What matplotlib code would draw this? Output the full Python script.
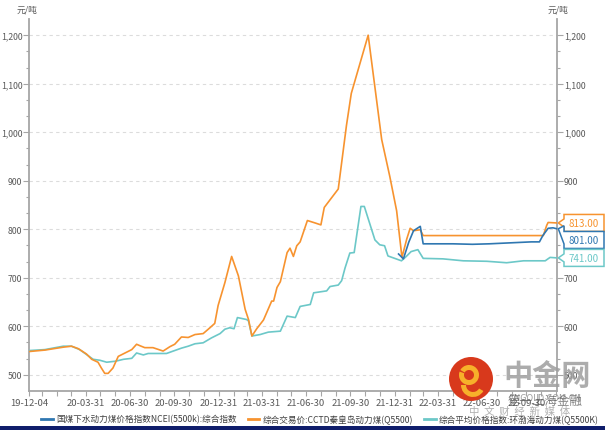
import numpy as np
import pandas as pd
import matplotlib
matplotlib.use("Agg")
import matplotlib.pyplot as plt
import matplotlib.dates as mdates
from matplotlib.patches import Polygon, Circle, Rectangle, Wedge
from matplotlib.transforms import IdentityTransform
from matplotlib.ticker import FixedLocator, MultipleLocator, FuncFormatter

plt.rcParams['font.family'] = ['Noto Sans CJK SC', 'DejaVu Sans']

# series names (legend order)
names = ["国煤下水动力煤价格指数NCEI(5500k):综合指数",
         "综合交易价:CCTD秦皇岛动力煤(Q5500)",
         "综合平均价格指数:环渤海动力煤(Q5500K)"]
colors = ["#2f77b1", "#f7932f", "#6cc8c8"]

# NCEI (blue) - only from early 2022
ncei_dates = ["2022-01-08", "2022-01-18", "2022-01-29", "2022-02-08", "2022-02-22",
              "2022-02-28", "2022-05-01", "2022-06-10", "2022-07-15", "2022-10-10",
              "2022-10-27", "2022-11-03", "2022-11-14", "2022-11-24", "2022-12-02"]
ncei_vals = [749, 739, 773, 797, 806,
             770, 770, 769, 770, 774,
             774, 787, 802, 803, 801]

# CCTD (orange)
cctd_dates = ["2019-12-04", "2020-01-06", "2020-02-13", "2020-03-01", "2020-03-15",
              "2020-04-01", "2020-04-12", "2020-04-25", "2020-05-02", "2020-05-09",
              "2020-05-16", "2020-05-26", "2020-06-06", "2020-06-20", "2020-07-04",
              "2020-07-14", "2020-07-21", "2020-07-31", "2020-08-17", "2020-09-07",
              "2020-09-21", "2020-10-01", "2020-10-15", "2020-10-29", "2020-11-12",
              "2020-11-29", "2020-12-13", "2020-12-23", "2020-12-30", "2021-01-13",
              "2021-01-27", "2021-02-10", "2021-02-24", "2021-03-03", "2021-03-10",
              "2021-03-20", "2021-04-03", "2021-04-10", "2021-04-20", "2021-04-24",
              "2021-05-01", "2021-05-08", "2021-05-22", "2021-05-28", "2021-06-04",
              "2021-06-11", "2021-06-18", "2021-07-03", "2021-07-19", "2021-07-31",
              "2021-08-07", "2021-09-05", "2021-09-22", "2021-10-02", "2021-11-06",
              "2021-12-04", "2021-12-21", "2022-01-04", "2022-01-15", "2022-01-25",
              "2022-02-01", "2022-02-08", "2022-02-22", "2022-02-28", "2022-11-04",
              "2022-11-11", "2022-11-14", "2022-12-02"]
cctd_vals = [548, 551, 557, 559, 554,
             543, 532, 526, 514, 503,
             503, 514, 538, 545, 552,
             563, 560, 556, 556, 549,
             558, 563, 578, 577, 583,
             585, 597, 606, 643, 690,
             744, 704, 635, 614, 580,
             595, 613, 629, 652, 652,
             680, 692, 752, 761, 744,
             766, 774, 818, 813, 809,
             845, 883, 1014, 1080, 1200,
             985, 908, 838, 742, 780,
             802, 797, 799, 787, 787,
             808, 814, 813]

# 环渤海 (teal)
bohai_dates = ["2019-12-04", "2020-01-06", "2020-02-13", "2020-03-01", "2020-03-18",
               "2020-04-01", "2020-04-15", "2020-04-29", "2020-05-13", "2020-05-31",
               "2020-06-17", "2020-07-04", "2020-07-14", "2020-07-28", "2020-08-07",
               "2020-09-14", "2020-09-28", "2020-10-15", "2020-10-29", "2020-11-12",
               "2020-11-29", "2020-12-16", "2021-01-03", "2021-01-13", "2021-01-23",
               "2021-02-01", "2021-02-08", "2021-02-27", "2021-03-03", "2021-03-10",
               "2021-03-27", "2021-04-13", "2021-05-08", "2021-05-22", "2021-06-08",
               "2021-06-18", "2021-07-09", "2021-07-16", "2021-08-12", "2021-08-19",
               "2021-09-05", "2021-09-12", "2021-09-19", "2021-09-29", "2021-10-08",
               "2021-10-22", "2021-10-29", "2021-11-20", "2021-11-30", "2021-12-10",
               "2021-12-17", "2022-01-14", "2022-01-24", "2022-02-03", "2022-02-17",
               "2022-02-28", "2022-04-10", "2022-05-22", "2022-07-10", "2022-08-20",
               "2022-09-24", "2022-11-08", "2022-11-18", "2022-12-02"]
bohai_vals = [550, 552, 559, 559, 552,
              542, 532, 530, 526, 528,
              532, 534, 545, 541, 544,
              544, 549, 555, 559, 564,
              566, 576, 585, 594, 597,
              595, 618, 614, 611, 580,
              583, 588, 590, 621, 618,
              641, 645, 669, 673, 682,
              685, 694, 720, 751, 752,
              847, 847, 778, 768, 766,
              745, 735, 744, 754, 758,
              740, 739, 735, 734, 731,
              735, 735, 742, 741]

major_dates = ["2019-12-04", "2020-03-31", "2020-06-30", "2020-09-30", "2020-12-31",
               "2021-03-31", "2021-06-30", "2021-09-30", "2021-12-31", "2022-03-31",
               "2022-06-30", "2022-09-30"]

W, H = 605, 431
fig = plt.figure(figsize=(W / 100, H / 100), dpi=100)
x0, x1, ytop, ybot = 29, 557.3, 20, 392
ax = fig.add_axes([x0 / W, 1 - ybot / H, (x1 - x0) / W, (ybot - ytop) / H])

series = [(ncei_dates, ncei_vals), (cctd_dates, cctd_vals), (bohai_dates, bohai_vals)]
for i in [2, 1, 0]:
    d, v = series[i]
    ax.plot(pd.to_datetime(d), v, color=colors[i], lw=1.2, zorder=3 + (2 - i))

ax.set_xlim(pd.Timestamp("2019-12-04"), pd.Timestamp("2022-12-03"))
ax.set_ylim(466.67, 1233.33)

gray = "#a6a6a6"
ax.spines["top"].set_visible(False)
for s in ["left", "right", "bottom"]:
    ax.spines[s].set_color(gray)
    ax.spines[s].set_linewidth(1.3)

ax.yaxis.set_major_locator(MultipleLocator(100))
ax.yaxis.set_minor_locator(MultipleLocator(100 / 3))
ax.yaxis.set_major_formatter(FuncFormatter(lambda v, p: f"{int(round(v)):,}"))
ax.tick_params(axis="y", which="both", left=True, right=True, labelleft=True,
               labelright=True, colors=gray, labelcolor="#595959", labelsize=6.3,
               pad=0.3, width=0.8)
ax.tick_params(axis="y", which="major", length=4.5)
ax.tick_params(axis="y", which="minor", length=2.5)
ax.grid(axis="y", which="major", color="#dcdcdc", lw=0.8, ls=(0, (3, 3)))

mt = pd.to_datetime(major_dates)
ax.xaxis.set_major_locator(FixedLocator(mdates.date2num(mt)))
ax.xaxis.set_major_formatter(FuncFormatter(lambda v, p: mdates.num2date(v).strftime("%y-%m-%d")))
month_ends = pd.date_range("2019-12-31", "2022-11-30", freq="ME")
ax.xaxis.set_minor_locator(FixedLocator(mdates.date2num(month_ends)))
ax.tick_params(axis="x", which="both", colors=gray, labelcolor="#595959",
               labelsize=6.8, length=3.5, width=0.8, pad=1.5)

# units
fig.text(27 / W, 1 - 10 / H, "元/吨", fontsize=6.3, color="#595959", ha="center", va="center")
fig.text(558 / W, 1 - 10 / H, "元/吨", fontsize=6.3, color="#595959", ha="center", va="center")

# legend
handles = [plt.Line2D([], [], color=colors[i], lw=2) for i in range(3)]
fig.legend(handles, names, loc="center", bbox_to_anchor=(320 / W, 1 - 420 / H), ncol=3,
           frameon=False, fontsize=6.2, handlelength=1.35, handletextpad=0.35,
           columnspacing=1.3, labelcolor="#404040")

# last value tags on the right
fig.canvas.draw()
bh = 17
prev = None
order = sorted(range(3), key=lambda i: -series[i][1][-1])
for i in order:
    d, v = series[i]
    tx, ty = ax.transData.transform((mdates.date2num(pd.Timestamp(d[-1])), v[-1]))
    cy = ty if prev is None else min(ty, prev - bh)
    prev = cy
    bx0, bx1 = 564, 604
    top, bot = cy + bh / 2, cy - bh / 2
    pts = [(bx0, top), (bx1, top), (bx1, bot), (bx0, bot),
           (bx0, min(cy, ty) - 3 if ty < cy else cy - 4), (x1 + 1, ty),
           (bx0, max(cy, ty) + 3 if ty > cy else cy + 4)]
    poly = Polygon(pts, closed=True, transform=IdentityTransform(), facecolor="white",
                   edgecolor=colors[i], lw=1.1, zorder=10)
    fig.patches.append(poly)
    fig.text(584 / W, cy / H, f"{v[-1]:.2f}", color=colors[i], fontsize=7,
             ha="center", va="center", zorder=11)

# watermark (pixel coords, origin bottom-left)
fig.patches.append(Circle((471, H - 380), 22, transform=IdentityTransform(),
                          facecolor="#d8391c", edgecolor="none", zorder=12))
fig.patches.append(Wedge((469, H - 376), 10, -200, 150, width=5,
                         transform=IdentityTransform(), facecolor="#f7b02a", zorder=13))
fig.patches.append(Wedge((473, H - 386), 12, 180, 330, width=5,
                         transform=IdentityTransform(), facecolor="#f7b02a", zorder=13))
fig.text(547 / W, 1 - 376 / H, "中金网", fontsize=21, fontweight="bold", color="#9e9e9e",
         ha="center", va="center", alpha=0.85, zorder=12)
fig.text(545 / W, 1 - 399 / H, "CNGOLD.COM.CN", fontsize=6.5, color="#9e9e9e",
         ha="center", va="center", zorder=12)
fig.text(545 / W, 1 - 401 / H, "第一上海金融", fontsize=9, color="#555555",
         ha="center", va="center", alpha=0.7, zorder=12)
fig.text(520 / W, 1 - 412 / H, "中  文  财  经  新  媒  体", fontsize=7.5, color="#b0b0b0",
         ha="center", va="center", zorder=12)

# bottom band
fig.patches.append(Rectangle((0, 0), 1, 4 / H, transform=fig.transFigure,
                             facecolor="#0f1d6b", edgecolor="none", zorder=12))

fig.savefig("out.png", dpi=100)
